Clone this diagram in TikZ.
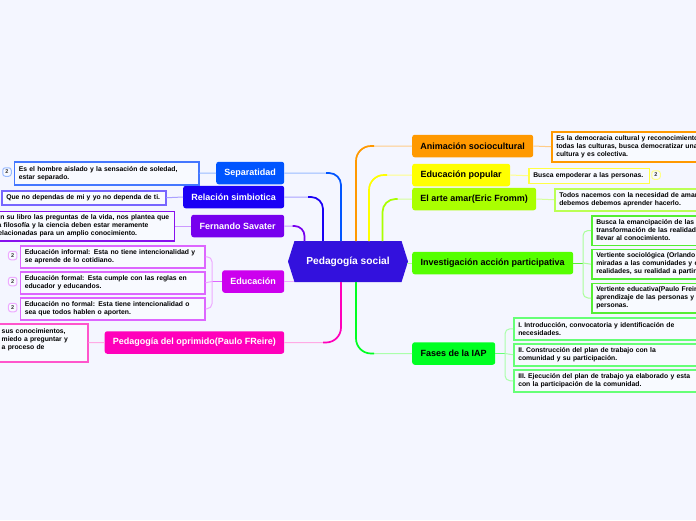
\documentclass[tikz,border=0pt]{standalone}
\usepackage{fontspec}
\setmainfont{Liberation Sans}
\usetikzlibrary{shapes.symbols,calc}

\definecolor{paper}{HTML}{F4F6FF}
\definecolor{sepcol}{HTML}{0055FF}
\definecolor{sepnote}{HTML}{4477FF}
\definecolor{sepline}{HTML}{99BBFF}
\definecolor{simcol}{HTML}{1A00F5}
\definecolor{simnote}{HTML}{7766FF}
\definecolor{simline}{HTML}{AAA0FF}
\definecolor{savcol}{HTML}{7700EE}
\definecolor{savnote}{HTML}{8811EE}
\definecolor{savline}{HTML}{CC99FF}
\definecolor{educol}{HTML}{CC00EE}
\definecolor{edunote}{HTML}{DD66FF}
\definecolor{eduline}{HTML}{EEAAFF}
\definecolor{oprcol}{HTML}{FF00BB}
\definecolor{oprnote}{HTML}{FF55CC}
\definecolor{oprline}{HTML}{FFAAE5}
\definecolor{hubcol}{HTML}{3311DD}
\definecolor{anicol}{HTML}{FF9900}
\definecolor{aniline}{HTML}{FFCC88}
\definecolor{popcol}{HTML}{FFFF00}
\definecolor{popnote}{HTML}{FFFF44}
\definecolor{popline}{HTML}{FFFF88}
\definecolor{artcol}{HTML}{AAFF00}
\definecolor{artnote}{HTML}{BBFF55}
\definecolor{artline}{HTML}{D5FF99}
\definecolor{invcol}{HTML}{55FF00}
\definecolor{invnote}{HTML}{55EE33}
\definecolor{invline}{HTML}{AAFF99}
\definecolor{fascol}{HTML}{00FF22}
\definecolor{fasnote}{HTML}{66FF77}
\definecolor{fasline}{HTML}{AAFFAA}

\tikzset{
  topic/.style={rounded corners=2.5pt,minimum height=22.5pt,inner sep=0pt,
    font=\fontsize{9}{10}\selectfont\bfseries,anchor=west},
  note/.style={draw=#1,line width=1.5pt,preaction={fill=paper!60!white},align=left,inner xsep=4.5pt,
    inner ysep=2pt,anchor=north west,font=\fontsize{6.8}{8}\selectfont\bfseries,text=black},
  badge/.style={draw=#1,line width=1pt,preaction={fill=paper!60!white},rounded corners=2.5pt,minimum size=8.5pt,
    inner sep=0pt,font=\fontsize{5.5}{5.5}\selectfont\bfseries,text=black!80},
  link/.style={line width=1pt},
  trunk/.style={line width=1.7pt,rounded corners=12pt},
}

\begin{document}
\begin{tikzpicture}[x=1pt,y=-1pt]
  \useasboundingbox (0,0) rectangle (696,520);
  \fill[paper] (0,0) rectangle (696,520);

  % Points where the branches leave the hub
  \coordinate (hubSep) at (341,241);
  \coordinate (hubSim) at (323,241);
  \coordinate (hubSav) at (304.5,241);
  \coordinate (hubEdu) at (294,281.5);
  \coordinate (hubOpr) at (341,282);
  \coordinate (hubAni) at (356,241);
  \coordinate (hubPop) at (369,241);
  \coordinate (hubArt) at (382.5,241);
  \coordinate (hubInv) at (407,263);
  \coordinate (hubFas) at (356,282);
  \coordinate (eduFork) at (212,281.5);
  \coordinate (invFork) at (583,263);
  \coordinate (fasFork) at (505,353.5);

  % Hub and first level topics
  \node[signal,signal to=east and west,signal pointer angle=145,fill=hubcol,text=white,
    minimum width=120pt,minimum height=41pt,inner sep=0pt,
    font=\fontsize{10.2}{11}\selectfont\bfseries] (hub) at (348,261.5) {Pedagogía social};

  \node[topic,fill=sepcol,text=white,minimum width=68pt] (sep) at (216,173) {Separatidad};
  \node[topic,fill=simcol,text=white,minimum width=101pt] (sim) at (183,197) {Relación simbiotica};
  \node[topic,fill=savcol,text=white,minimum width=93pt] (sav) at (191,226) {Fernando Savater};
  \node[topic,fill=educol,text=white,minimum width=62pt] (edu) at (222,281.5) {Educación};
  \node[topic,fill=oprcol,text=white,minimum width=179.5pt] (opr) at (104.5,342.5) {Pedagogía del oprimido(Paulo FReire)};

  \node[topic,fill=anicol,text=black,minimum width=121pt] (ani) at (412,146) {Animación sociocultural};
  \node[topic,fill=popcol,text=black,minimum width=98pt] (pop) at (412,175) {Educación popular};
  \node[topic,fill=artcol,text=black,minimum width=124pt] (art) at (412,199) {El arte amar(Eric Fromm)};
  \node[topic,fill=invcol,text=black,minimum width=161pt] (inv) at (412,263) {Investigación acción participativa};
  \node[topic,fill=fascol,text=black,minimum width=83pt] (fas) at (412,353.5) {Fases de la IAP};

  % Notes on the left
  \node[note=sepnote,text width=175.5pt,minimum height=23pt] (sepA) at (13.5,161) {Es el hombre aislado y la sensación de soledad,\\estar separado.};
  \node[note=simnote,text width=155pt,minimum height=14pt] (simA) at (1,190) {Que no dependas de mi y yo no dependa de ti.};
  \node[note=savnote,text width=174pt,minimum height=29.5pt] (savA) at (-9.5,210.5) {En su libro las preguntas de la vida, nos plantea que\\la filosofía y la ciencia deben estar meramente\\relacionadas para un amplio conocimiento.};
  \node[note=edunote,text width=175.5pt,minimum height=22pt] (eduA) at (19.5,245) {Educación informal: Esta no tiene intencionalidad y\\se aprende de lo cotidiano.};
  \node[note=edunote,text width=175.5pt,minimum height=22pt] (eduB) at (19.5,271) {Educación formal: Esta cumple con las reglas en\\educador y educandos.};
  \node[note=edunote,text width=175.5pt,minimum height=22pt] (eduC) at (19.5,297) {Educación no formal: Esta tiene intencionalidad o\\sea que todos hablen o aporten.};
  \node[note=oprnote,text width=81.5pt,minimum height=38pt] (oprA) at (-3.5,323) {sus conocimientos,\\miedo a preguntar y\\a proceso de\\~};

  % Notes on the right
  \node[note=anicol,text width=170pt,minimum height=30pt] (aniA) at (551,131) {Es la democracia cultural y reconocimiento\\todas las culturas, busca democratizar una\\cultura y es colectiva.};
  \node[note=popnote,text width=111.7pt,minimum height=15pt] (popA) at (528,167.5) {Busca empoderar a las personas.};
  \node[note=artnote,text width=170pt,minimum height=22pt] (artA) at (554,188) {Todos nacemos con la necesidad de amar\\debemos debemos aprender hacerlo.};
  \node[note=invnote,text width=120pt,minimum height=29.5pt] (invA) at (591,215) {Busca la emancipación de las\\transformación de las realidades\\llevar al conocimiento.};
  \node[note=invnote,text width=120pt,minimum height=29.5pt] (invB) at (591,248.7) {Vertiente sociológica (Orlando\\miradas a las comunidades y c\\realidades, su realidad a partir};
  \node[note=invnote,text width=120pt,minimum height=29.5pt] (invC) at (591,282.5) {Vertiente educativa(Paulo Freire\\aprendizaje de las personas y\\personas.};
  \node[note=fasnote,text width=190pt,minimum height=22pt] (fasA) at (513,317) {I. Introducción, convocatoria y identificación de\\necesidades.};
  \node[note=fasnote,text width=190pt,minimum height=22pt] (fasB) at (513,343) {II. Construcción del plan de trabajo con la\\comunidad y su participación.};
  \node[note=fasnote,text width=190pt,minimum height=22pt] (fasC) at (513,369) {III. Ejecución del plan de trabajo ya elaborado y esta\\con la participación de la comunidad.};

  % Badges
  \node[badge=sepline] (sepN) at (7,172) {2};
  \node[badge=eduline] (eduAN) at (12.7,255.5) {2};
  \node[badge=eduline] (eduBN) at (12.7,281.5) {2};
  \node[badge=eduline] (eduCN) at (12.7,307.5) {2};
  \node[badge=popline] (popN) at (656,175) {2};

  % Left branches
  \draw[link,sepline,rounded corners=12pt] (sep.east) -| (hubSep);
  \draw[trunk,sepcol] (hubSep) |- ($(hubSep |- sep.east)+(-15,0)$);
  \draw[link,simline,rounded corners=12pt] (sim.east) -| (hubSim);
  \draw[trunk,simcol] (hubSim) |- ($(hubSim |- sim.east)+(-15,0)$);
  \draw[link,savline,rounded corners=10pt] (sav.east) -| (hubSav);
  \draw[trunk,savcol,rounded corners=10pt] (hubSav) |- ($(hubSav |- sav.east)+(-12,0)$);
  \draw[link,eduline] (edu.east) -- (hubEdu);
  \draw[link,oprline,rounded corners=15pt] (opr.east) -| (hubOpr);
  \draw[trunk,oprcol,rounded corners=15pt] (hubOpr) |- ($(hubOpr |- opr.east)+(-18,0)$);

  % Right branches
  \draw[link,aniline,rounded corners=15pt] (ani.west) -| (hubAni);
  \draw[trunk,anicol,rounded corners=15pt] (hubAni) |- ($(hubAni |- ani.west)+(18,0)$);
  \draw[link,popline,rounded corners=15pt] (pop.west) -| (hubPop);
  \draw[trunk,popcol,rounded corners=15pt] (hubPop) |- ($(hubPop |- pop.west)+(18,0)$);
  \draw[link,artline,rounded corners=13pt] (art.west) -| (hubArt);
  \draw[trunk,artcol,rounded corners=13pt] (hubArt) |- ($(hubArt |- art.west)+(15,0)$);
  \draw[link,invline] (inv.west) -- (hubInv);
  \draw[link,fasline,rounded corners=15pt] (fas.west) -| (hubFas);
  \draw[trunk,fascol,rounded corners=15pt] (hubFas) |- ($(hubFas |- fas.west)+(18,0)$);

  % Topic to note
  \draw[link,sepline] (sep.west) -- (sepA.east);
  \draw[link,simline] (sim.west) -- (simA.east);
  \draw[link,savline] (sav.west) -- (savA.east);
  \draw[link,oprline] (opr.west) -- (oprA.east);
  \draw[link,aniline] (ani.east) -- (aniA.west);
  \draw[link,popline] (pop.east) -- (popA.west);
  \draw[link,artline] (art.east) -- (artA.west);

  % Forks
  \draw[link,edunote] (edu.west) -- (eduFork);
  \draw[link,eduline] (eduFork) -- (eduB.east);
  \draw[link,eduline,rounded corners=5pt] (eduA.east) -| (eduFork) |- (eduC.east);
  \draw[link,invnote] (inv.east) -- (invFork);
  \draw[link,invline] (invFork) -- (invB.west);
  \draw[link,invline,rounded corners=5pt] (invA.west) -| (invFork) |- (invC.west);
  \draw[link,fasnote] (fas.east) -- (fasFork);
  \draw[link,fasline] (fasFork) -- (fasB.west);
  \draw[link,fasline,rounded corners=5pt] (fasA.west) -| (fasFork) |- (fasC.west);
\end{tikzpicture}
\end{document}
